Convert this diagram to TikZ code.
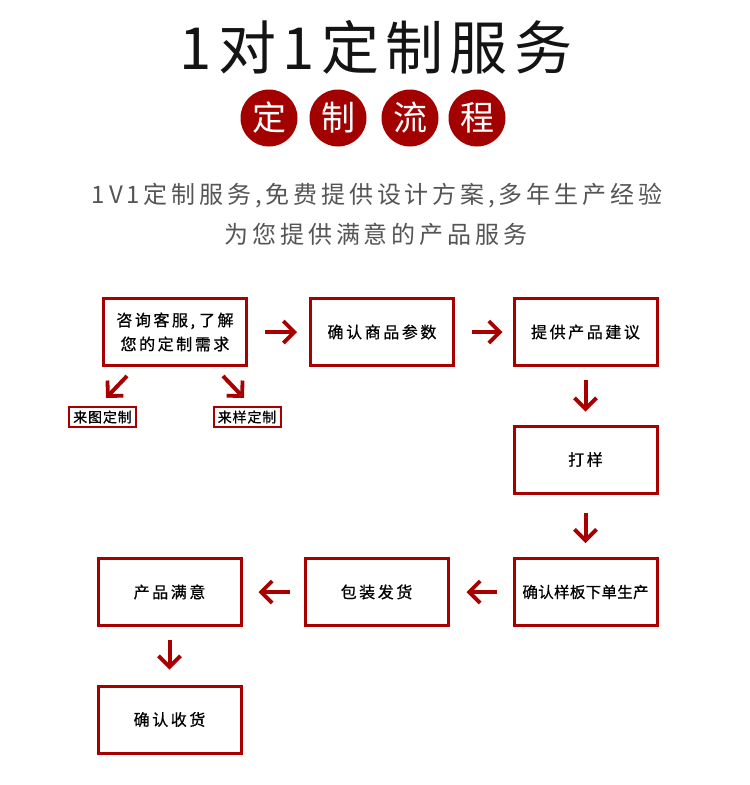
\documentclass[tikz,border=0pt]{standalone}
\usepackage{fontspec}
\newfontfamily\cjk{Noto Sans CJK SC}
\newfontfamily\cjkm{Noto Sans CJK SC}[FakeBold=0.7]
\usetikzlibrary{arrows.meta}
\definecolor{dred}{RGB}{168,0,0}
\definecolor{cred}{RGB}{163,0,0}
\definecolor{subgray}{RGB}{85,85,85}
\definecolor{titleblack}{RGB}{20,20,20}
\begin{document}
\begin{tikzpicture}[x=1pt,y=-1pt,
  box/.style={draw=dred,line width=3pt,fill=white,minimum width=143pt,minimum height=67pt,inner sep=0pt,align=center,text=black,
    font=\cjkm\fontsize{16}{24}\selectfont\addfontfeatures{LetterSpace=16}},
  smallbox/.style={draw=dred,line width=2pt,fill=white,minimum width=67pt,minimum height=20pt,inner sep=0pt,text=black,
    font=\cjkm\fontsize{14}{16}\selectfont\addfontfeatures{LetterSpace=6}},
  circ/.style={circle,fill=cred,minimum size=57pt,inner sep=0pt,text=white,
    font=\cjk\fontsize{34}{34}\selectfont},
  subtxt/.style={text=subgray,font=\cjk\fontsize{24}{24}\selectfont\addfontfeatures{LetterSpace=16}},
  arr/.style={draw=dred,line width=4pt,-{Straight Barb[length=11pt,width=22pt,line width=3.8pt]}},
]
\useasboundingbox[fill=white] (0,0) rectangle (750,785);

% title
\node[text=titleblack,font=\cjk\fontsize{58}{58}\selectfont\addfontfeatures{LetterSpace=11}] (title) at (376,47) {1对1定制服务};

% circles
\node[circ] (c1) at (269,118) {定};
\node[circ] (c2) at (338,118) {制};
\node[circ] (c3) at (410,118) {流};
\node[circ] (c4) at (477,118) {程};

% subtitle
\node[subtxt] (sub1) at (377,196) {1V1定制服务,免费提供设计方案,多年生产经验};
\node[subtxt] (sub2) at (376,234) {为您提供满意的产品服务};

% boxes
\node[box] (b1) at (175,332) {咨询客服,\hspace{4pt}了解\\您的定制需求};
\node[box] (b2) at (382,332) {确认商品参数};
\node[box] (b3) at (585.5,332) {提供产品建议};
\node[box] (b4) at (585.5,459.5) {打样};
\node[box,font=\cjkm\fontsize{15.5}{20}\selectfont\addfontfeatures{LetterSpace=2}] (b5) at (585.5,592) {确认样板下单生产};
\node[box] (b6) at (376.5,592) {包装发货};
\node[box] (b7) at (169.5,592) {产品满意};
\node[box] (b8) at (169.5,719.5) {确认收货};

\node[smallbox] (s1) at (102.5,417) {来图定制};
\node[smallbox] (s2) at (247,417) {来样定制};

% arrows
\draw[arr,shorten <=17pt,shorten >=12pt] (b1.east) -- (b2.west);
\draw[arr,shorten <=17pt,shorten >=10pt] (b2.east) -- (b3.west);
\draw[arr,shorten <=13pt,shorten >=13pt] (b3.south) -- (b4.north);
\draw[arr,shorten <=18pt,shorten >=14pt] (b4.south) -- (b5.north);
\draw[arr,shorten <=16pt,shorten >=17pt] (b5.west) -- (b6.east);
\draw[arr,shorten <=14pt,shorten >=16pt] (b6.west) -- (b7.east);
\draw[arr,shorten <=13pt,shorten >=15pt] (b7.south) -- (b8.north);

\coordinate (d1a) at (127,376);
\coordinate (d1b) at (106,398);
\coordinate (d2a) at (223,376);
\coordinate (d2b) at (244,398);
\draw[arr] (d1a) -- (d1b);
\draw[arr] (d2a) -- (d2b);
\end{tikzpicture}
\end{document}
